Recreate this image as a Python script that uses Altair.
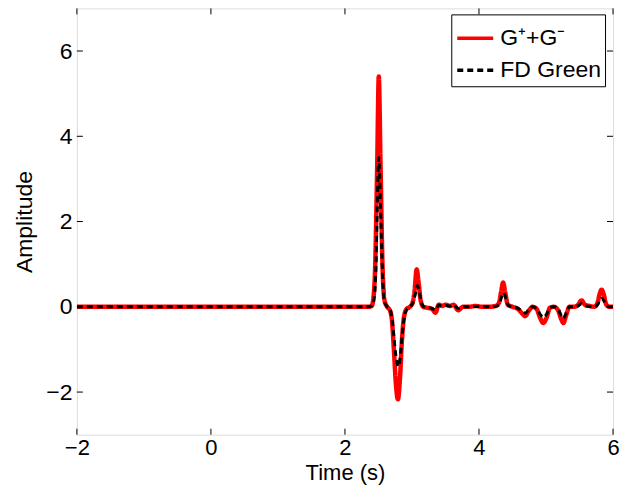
import altair as alt
import pandas as pd

# ---- data ----
t_red = [-2.0, 2.35, 2.40, 2.42, 2.45, 2.48, 2.505, 2.53, 2.56, 2.59, 2.63, 2.67, 2.70, 2.73, 2.76, 2.79,
         2.82, 2.85, 2.88, 2.92, 2.97, 3.01, 3.04, 3.07, 3.10, 3.13, 3.17, 3.22, 3.30, 3.35, 3.40, 3.45,
         3.50, 3.57, 3.62, 3.69, 3.76, 3.85, 3.95, 4.05, 4.15, 4.25, 4.30, 4.33, 4.36, 4.39, 4.43, 4.50,
         4.58, 4.64, 4.69, 4.74, 4.80, 4.86, 4.91, 4.96, 5.01, 5.06, 5.12, 5.18, 5.23, 5.26, 5.30, 5.35,
         5.42, 5.48, 5.53, 5.58, 5.65, 5.72, 5.77, 5.80, 5.83, 5.86, 5.90, 5.95, 6.0]
y_red = [0.0, 0.0, 0.02, 0.15, 0.9, 3.2, 5.4, 3.4, 1.0, 0.15, 0.0, -0.08, -0.3, -1.0, -1.8, -2.17,
         -1.7, -0.8, -0.25, -0.05, 0.0, 0.1, 0.4, 0.88, 0.55, 0.15, 0.0, -0.02, -0.05, -0.14, 0.05, 0.02,
         0.05, 0.02, 0.05, -0.08, 0.0, 0.0, 0.02, 0.0, 0.0, 0.02, 0.1, 0.35, 0.57, 0.35, 0.05, 0.0,
         -0.05, -0.15, -0.22, -0.1, 0.0, -0.05, -0.25, -0.38, -0.25, -0.02, 0.0, -0.08, -0.3, -0.38, -0.2, 0.0,
         0.0, 0.05, 0.15, 0.05, 0.02, 0.0, 0.1, 0.3, 0.4, 0.3, 0.05, 0.0, 0.0]

t_black = [-2.0, 2.35, 2.40, 2.43, 2.46, 2.48, 2.505, 2.53, 2.56, 2.59, 2.63, 2.67, 2.70, 2.73, 2.76, 2.80,
           2.83, 2.86, 2.89, 2.93, 2.97, 3.01, 3.05, 3.08, 3.11, 3.14, 3.18, 3.25, 3.30, 3.35, 3.40, 3.45,
           3.50, 3.57, 3.62, 3.69, 3.76, 3.85, 3.95, 4.05, 4.15, 4.25, 4.30, 4.33, 4.37, 4.40, 4.44, 4.50,
           4.58, 4.64, 4.69, 4.74, 4.80, 4.86, 4.91, 4.96, 5.01, 5.06, 5.12, 5.18, 5.23, 5.26, 5.30, 5.35,
           5.42, 5.48, 5.53, 5.58, 5.65, 5.72, 5.77, 5.80, 5.83, 5.86, 5.90, 5.95, 6.0]
y_black = [0.0, 0.0, 0.02, 0.15, 0.8, 2.2, 3.5, 2.4, 0.8, 0.12, 0.0, -0.05, -0.25, -0.7, -1.15, -1.4,
           -1.1, -0.55, -0.2, -0.04, 0.0, 0.08, 0.3, 0.5, 0.35, 0.1, 0.0, -0.02, -0.04, -0.08, 0.04, 0.02,
           0.03, 0.02, 0.05, -0.04, 0.0, 0.0, 0.01, 0.0, 0.0, 0.01, 0.05, 0.2, 0.33, 0.2, 0.03, 0.0,
           -0.03, -0.1, -0.15, -0.07, 0.0, -0.04, -0.17, -0.25, -0.17, -0.02, 0.0, -0.05, -0.22, -0.27, -0.15, 0.0,
           0.0, 0.02, 0.07, 0.02, 0.01, 0.0, 0.05, 0.15, 0.2, 0.15, 0.03, 0.0, 0.0]

series_names = ["G\u207a+G\u207b", "FD Green"]
x_ticks = [-2, 0, 2, 4, 6]
y_ticks = [-2, 0, 2, 4, 6]

df_red = pd.DataFrame({"t": t_red, "amp": y_red, "series": series_names[0]})
df_black = pd.DataFrame({"t": t_black, "amp": y_black, "series": series_names[1]})
df_xt = pd.DataFrame({"t": x_ticks})
df_yt = pd.DataFrame({"amp": y_ticks})

W, H = 537, 427
FONT = "Liberation Sans"
FS = 23
FSX = 22

xscale = alt.Scale(domain=[-2, 6], nice=False, zero=False)
yscale = alt.Scale(domain=[-3, 7], nice=False, zero=False)
xaxis = alt.Axis(values=x_ticks, title="Time (s)", grid=False, tickSize=0, domain=False,
                 labelPadding=3, titlePadding=4, labelFontSize=FSX, titleFontSize=FSX,
                 labelFont=FONT, titleFont=FONT, labelColor="black", titleColor="black",
                 titleFontWeight="normal", labelFlush=False)
yaxis = alt.Axis(values=y_ticks, title="Amplitude", grid=False, tickSize=0, domain=False,
                 labelPadding=5, titlePadding=9, labelFontSize=FS, titleFontSize=FS,
                 labelFont=FONT, titleFont=FONT, labelColor="black", titleColor="black",
                 titleFontWeight="normal", labelFlush=False)

color = alt.Color("series:N", scale=alt.Scale(domain=series_names, range=["#ff0000", "#000000"]),
                  legend=alt.Legend(title=None, orient="none", legendX=375, legendY=6,
                                    strokeColor="black", fillColor="white", padding=4,
                                    labelFont=FONT, labelFontSize=FS, labelColor="black",
                                    symbolType="stroke", symbolSize=1296, symbolStrokeWidth=3.5,
                                    labelOffset=5, rowPadding=-6, cornerRadius=0))
dash = alt.StrokeDash("series:N", scale=alt.Scale(domain=series_names, range=[[1, 0], [6, 4]]),
                      legend=alt.Legend(title=None, orient="none", legendX=375, legendY=6))

x_enc = alt.X("t:Q", scale=xscale, axis=xaxis)
y_enc = alt.Y("amp:Q", scale=yscale, axis=yaxis)

red = alt.Chart(df_red).mark_line(strokeWidth=4.5, interpolate="monotone", clip=True).encode(
    x=x_enc, y=y_enc, color=color, strokeDash=dash)
black = alt.Chart(df_black).mark_line(strokeWidth=3, interpolate="monotone", clip=True).encode(
    x=x_enc, y=y_enc, color=color, strokeDash=dash)

tk = dict(color="black", strokeWidth=1)
xt_bottom = alt.Chart(df_xt).mark_rule(**tk).encode(x=x_enc, y=alt.value(H), y2=alt.value(H - 6))
xt_top = alt.Chart(df_xt).mark_rule(**tk).encode(x=x_enc, y=alt.value(0), y2=alt.value(6))
yt_left = alt.Chart(df_yt).mark_rule(**tk).encode(y=y_enc, x=alt.value(0), x2=alt.value(6))
yt_right = alt.Chart(df_yt).mark_rule(**tk).encode(y=y_enc, x=alt.value(W), x2=alt.value(W - 6))

chart = alt.layer(red, black, xt_bottom, xt_top, yt_left, yt_right).properties(
    width=W, height=H,
    autosize=alt.AutoSizeParams(type="none"),
    padding={"left": 69, "top": 0, "right": 10, "bottom": 53},
).configure_view(stroke="black", strokeWidth=1.2).configure(background="white")

chart.save("out.html", embed_options={"renderer": "svg", "actions": False})
